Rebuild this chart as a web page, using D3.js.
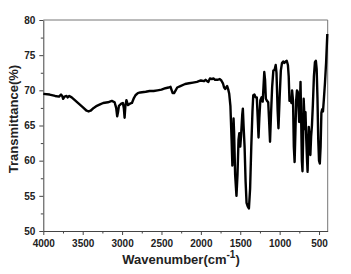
<!DOCTYPE html>
<html>
<head>
<meta charset="utf-8">
<script src="https://cdn.jsdelivr.net/npm/d3@7"></script>
<style>
  body { margin: 0; background: #fff; }
  svg text { font-family: "Liberation Sans", Arial, sans-serif; font-weight: bold; }
</style>
</head>
<body>
<div id="chart"></div>
<script>
// Spectrum readings (wavenumber in cm-1, transmittance in %)
const wavenumber = [4000,3920,3850,3800,3775,3760,3748,3730,3705,3690,3670,3640,3600,3550,3500,3450,3425,3400,3360,3320,3280,3240,3180,3130,3095,3075,3062,3050,3040,3010,2990,2978,2968,2958,2945,2925,2900,2875,2850,2830,2800,2770,2700,2650,2600,2550,2500,2450,2410,2385,2370,2358,2340,2320,2300,2260,2200,2150,2100,2050,2000,1960,1940,1920,1905,1885,1860,1840,1820,1790,1760,1740,1720,1705,1690,1680,1666,1652,1640,1625,1610,1600,1592,1585,1578,1565,1548,1535,1522,1512,1500,1490,1475,1467,1458,1445,1432,1420,1405,1390,1375,1360,1345,1335,1320,1305,1290,1278,1268,1258,1245,1230,1215,1205,1195,1185,1175,1160,1145,1135,1122,1110,1095,1080,1065,1050,1040,1025,1015,1000,985,970,955,940,925,910,895,885,875,865,850,842,830,820,810,800,790,780,770,762,752,742,735,727,718,710,702,695,688,680,672,662,652,645,638,630,620,610,600,590,578,565,552,540,530,520,510,500,490,480,470,460,450,440,425,410,395];
const transmittance = [69.5,69.4,69.2,69.1,69.4,69.2,68.8,69.1,69.2,69.0,69.2,69.0,68.6,68.1,67.6,67.1,67.0,67.1,67.5,67.8,68.0,68.2,68.3,68.5,68.3,67.5,66.3,67.0,67.8,68.1,68.2,67.5,66.1,67.8,68.6,67.9,68.1,68.2,68.9,69.3,69.6,69.7,69.8,69.9,69.9,70.0,70.1,70.3,70.4,70.5,70.0,69.6,69.6,70.0,70.4,70.6,70.9,71.0,71.1,71.2,71.4,71.3,71.5,71.3,71.2,71.7,71.6,71.7,71.5,71.5,71.6,71.4,71.0,70.4,70.2,70.4,70.6,70.1,69.5,67.8,63.0,59.3,63.0,66.0,64.0,58.0,55.0,58.0,63.0,63.9,62.0,63.5,66.5,67.4,65.0,62.0,57.0,54.0,53.5,53.2,56.0,62.0,67.0,69.3,69.4,69.0,69.0,66.0,63.3,66.0,68.6,69.0,68.4,70.5,72.6,71.5,68.8,68.5,68.3,66.0,62.7,66.5,70.5,72.8,72.9,73.6,72.5,67.0,64.6,69.0,72.8,73.9,74.1,73.9,74.1,74.2,73.6,72.0,68.5,68.8,68.2,70.0,68.5,62.0,59.8,64.0,68.6,70.0,69.8,68.0,65.5,68.0,71.2,66.0,60.0,58.5,63.0,68.8,67.0,64.5,66.9,63.0,60.0,58.4,62.0,64.8,63.0,60.8,63.5,65.0,68.0,72.0,74.0,74.2,73.0,69.0,63.0,60.0,59.6,62.0,66.8,67.3,67.0,68.5,71.0,74.0,78.0];

const xMajorTicks = [4000,3500,3000,2500,2000,1500,1000,500];
const yMajorTicks = [50,55,60,65,70,75,80];

const data = wavenumber.map((w, i) => ({w, t: transmittance[i]}));

const width = 351;
const height = 274;
const marginTop = 20;
const marginRight = 23.3;
const marginBottom = 43;
const marginLeft = 43.3;

const x = d3.scaleLinear()
  .domain([4000, 390])
  .range([marginLeft, width - marginRight]);

const y = d3.scaleLinear()
  .domain([50, 80])
  .range([height - marginBottom, marginTop]);

const svg = d3.create("svg")
  .attr("width", width)
  .attr("height", height)
  .attr("viewBox", [0, 0, width, height]);

d3.select("#chart").append(() => svg.node());

// Frame (top and right)
svg.append("path")
  .attr("fill", "none")
  .attr("stroke", "#777")
  .attr("stroke-width", 1)
  .attr("d", `M${x(4000)},${y(80)}H${x(390)}V${y(50)}`);

// Minor ticks
const xMinor = d3.range(3750, 390, -500);
svg.append("g")
  .attr("transform", `translate(0,${y(50)})`)
  .call(d3.axisBottom(x).tickValues(xMinor).tickSize(2.5).tickFormat(""))
  .call(g => g.select(".domain").remove())
  .call(g => g.selectAll("line").attr("stroke", "#444"));

svg.append("g")
  .attr("transform", `translate(${x(4000)},0)`)
  .call(d3.axisLeft(y).tickValues(d3.range(52.5, 80, 5)).tickSize(2.5).tickFormat(""))
  .call(g => g.select(".domain").remove())
  .call(g => g.selectAll("line").attr("stroke", "#444"));

// X axis
svg.append("g")
  .attr("transform", `translate(0,${y(50)})`)
  .call(d3.axisBottom(x).tickValues(xMajorTicks).tickFormat(d3.format("d"))
    .tickSize(4).tickPadding(5).tickSizeOuter(0))
  .call(g => g.select(".domain").attr("stroke", "#444"))
  .call(g => g.selectAll("line").attr("stroke", "#444"))
  .call(g => g.selectAll("text").attr("font-size", 10).attr("fill", "#222")
    .style("font-family", "'Liberation Sans', Arial, sans-serif"));

// Y axis
svg.append("g")
  .attr("transform", `translate(${x(4000)},0)`)
  .call(d3.axisLeft(y).tickValues(yMajorTicks).tickFormat(d3.format("d"))
    .tickSize(4).tickPadding(4).tickSizeOuter(0))
  .call(g => g.select(".domain").attr("stroke", "#444"))
  .call(g => g.selectAll("line").attr("stroke", "#444"))
  .call(g => g.selectAll("text").attr("font-size", 10).attr("fill", "#222")
    .style("font-family", "'Liberation Sans', Arial, sans-serif"));

// Spectrum line
svg.append("path")
  .datum(data)
  .attr("fill", "none")
  .attr("stroke", "#000")
  .attr("stroke-width", 2.4)
  .attr("stroke-linejoin", "round")
  .attr("d", d3.line().x(d => x(d.w)).y(d => y(d.t)));

// Axis titles
const xt = svg.append("text")
  .attr("x", 181)
  .attr("y", 264)
  .attr("text-anchor", "middle")
  .attr("font-size", 13)
  .attr("fill", "#222");
xt.append("tspan").text("Wavenumber(cm");
xt.append("tspan").attr("dy", -6).attr("font-size", 10).text("-1");
xt.append("tspan").attr("dy", 6).text(")");

svg.append("text")
  .attr("transform", `translate(18,${119}) rotate(-90)`)
  .attr("text-anchor", "middle")
  .attr("font-size", 13)
  .attr("fill", "#222")
  .text("Transmittance(%)");
</script>
</body>
</html>
